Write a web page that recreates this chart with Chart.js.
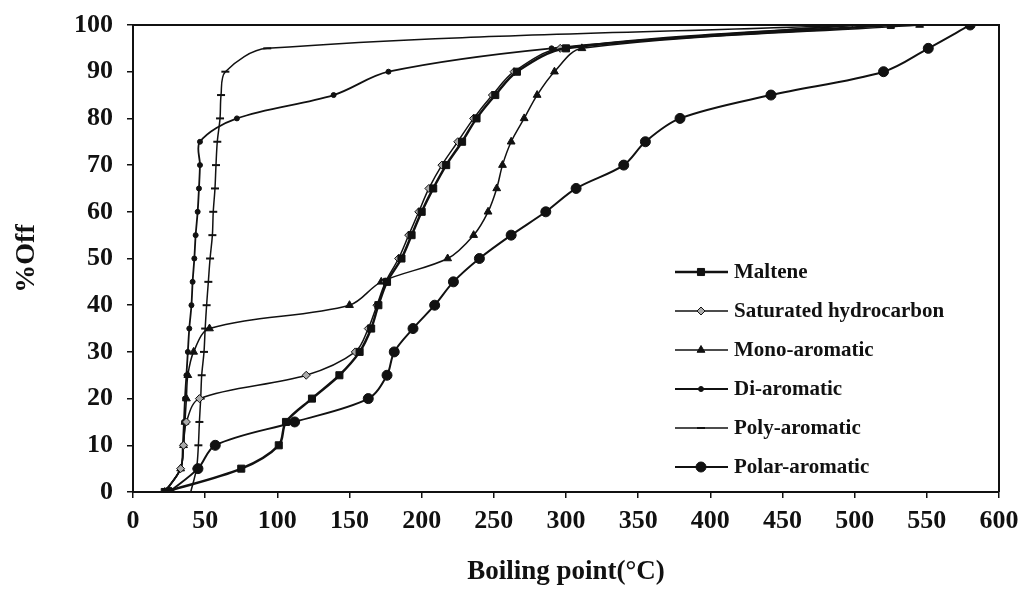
<!DOCTYPE html>
<html>
<head>
<meta charset="utf-8">
<script src="https://cdn.jsdelivr.net/npm/chart.js@4.4.0/dist/chart.umd.min.js"></script>
<style>
  html, body { margin: 0; padding: 0; background: #fff; }
  #wrap { width: 1025px; height: 598px; }
</style>
</head>
<body>
<div id="wrap"><canvas id="myChart" width="1025" height="598"></canvas></div>
<script>
// %Off levels shared by every fraction
var pctOff = [0, 5, 10, 15, 20, 25, 30, 35, 40, 45, 50, 55, 60, 65, 70, 75, 80, 85, 90, 95, 100];

// boiling point (°C) at each %Off level
var maltene   = [22, 75, 101, 106, 124, 143, 157, 165, 170, 176, 186, 193, 200, 208, 217, 228, 238, 251, 266, 300, 525];
var saturated = [22, 33, 35, 37, 46, 120, 154, 163, 169, 175, 184, 191, 198, 205, 214, 225, 236, 249, 264, 296, 500];
var monoArom  = [22, 33, 35, 36, 37, 38, 42, 53, 150, 172, 218, 236, 246, 252, 256, 262, 271, 280, 292, 311, 545];
var diArom    = [22, 33, 34.5, 35.3, 36, 37, 38, 39, 40.5, 41.3, 42.5, 43.4, 44.8, 45.7, 46.4, 46.4, 72, 139, 177, 290, 500];
var polyArom  = [40, 44, 45.3, 46, 46.9, 47.6, 49.2, 50, 51, 52.2, 53.4, 55, 55.6, 56.8, 57.5, 58.4, 60.3, 61, 64, 93, 500];
var polarArom = [25, 45, 57, 112, 163, 176, 181, 194, 209, 222, 240, 262, 286, 307, 340, 355, 379, 442, 520, 551, 580];

var seriesNames = ['Maltene', 'Saturated hydrocarbon', 'Mono-aromatic', 'Di-aromatic', 'Poly-aromatic', 'Polar-aromatic'];
var xTicks = [0, 50, 100, 150, 200, 250, 300, 350, 400, 450, 500, 550, 600];
var yTicks = [0, 10, 20, 30, 40, 50, 60, 70, 80, 90, 100];

var SERIF = '"Liberation Serif", "Times New Roman", serif';

function pts(xs){
	return xs.map(function(x, i){ return { x: x, y: pctOff[i] }; });
}

function ds(name, xs, style, radius, lw, fill){
	return {
		label : name,
		data : pts(xs),
		showLine : true,
		tension : 0.33,
		borderColor : '#111',
		borderWidth : lw,
		pointStyle : style,
		pointRadius : radius,
		pointHoverRadius : radius,
		pointBackgroundColor : fill,
		pointBorderColor : '#111',
		pointBorderWidth : style === 'line' ? 2 : 1
	};
}

// top/right frame + legend box inside the plot
var framePlugin = {
	id : 'frame',
	afterDraw : function(chart){
		var c = chart.ctx, a = chart.chartArea;
		c.save();
		c.strokeStyle = '#111';
		c.lineWidth = 2;
		c.beginPath();
		c.moveTo(a.left, a.top); c.lineTo(a.right, a.top); c.lineTo(a.right, a.bottom);
		c.stroke();

		var y0 = 272, step = 39;
		chart.data.datasets.forEach(function(d, i){
			var y = y0 + i * step;
			c.strokeStyle = '#111';
			c.lineWidth = d.borderWidth;
			c.beginPath(); c.moveTo(675, y); c.lineTo(728, y); c.stroke();
			c.fillStyle = d.pointBackgroundColor;
			c.lineWidth = d.pointBorderWidth;
			Chart.helpers.drawPoint(c, { pointStyle : d.pointStyle, radius : d.pointRadius, borderWidth : d.pointBorderWidth, rotation : 0 }, 701, y);
			c.fillStyle = '#111';
			c.font = 'bold 21px ' + SERIF;
			c.textBaseline = 'middle';
			c.textAlign = 'left';
			c.fillText(d.label, 734, y + 1);
		});
		c.restore();
	}
};

var ctx = document.getElementById('myChart');
var myChart = new Chart(ctx, {
	type : 'scatter',
	data : {
		datasets : [
			ds(seriesNames[0], maltene,   'rect',    5,   2.5, '#111'),
			ds(seriesNames[1], saturated, 'rectRot', 4,   1.5, '#aaa'),
			ds(seriesNames[2], monoArom,  'triangle',4.5, 1.5, '#111'),
			ds(seriesNames[3], diArom,    'circle',  2.5, 1.8, '#111'),
			ds(seriesNames[4], polyArom,  'line',    4,   1.5, '#111'),
			ds(seriesNames[5], polarArom, 'circle',  5,   2,   '#111')
		]
	},
	options : {
		responsive : false,
		animation : false,
		layout : { padding : { left : 0, right : 26, top : 25, bottom : 0 } },
		plugins : {
			legend : { display : false },
			tooltip : { enabled : false }
		},
		scales : {
			x : {
				type : 'linear',
				min : 0, max : 600,
				afterFit : function(s){ s.height = 106; s.paddingLeft = 0; s.paddingRight = 0; },
				afterBuildTicks : function(s){ s.ticks = xTicks.map(function(v){ return { value : v }; }); },
				border : { display : true, color : '#111', width : 2 },
				grid : { drawOnChartArea : false, drawTicks : true, tickLength : 6, color : '#111', lineWidth : 1.5 },
				ticks : { color : '#111', padding : 8, maxRotation : 0, font : { family : SERIF, size : 26, weight : 'bold' } },
				title : { display : true, text : 'Boiling point(°C)', color : '#111', padding : { bottom : 10 },
					font : { family : SERIF, size : 27, weight : 'bold' } }
			},
			y : {
				type : 'linear',
				min : 0, max : 100,
				afterFit : function(s){ s.width = 133; s.paddingTop = 0; s.paddingBottom = 0; },
				afterBuildTicks : function(s){ s.ticks = yTicks.map(function(v){ return { value : v }; }); },
				border : { display : true, color : '#111', width : 2 },
				grid : { drawOnChartArea : false, drawTicks : true, tickLength : 6, color : '#111', lineWidth : 1.5 },
				ticks : { color : '#111', padding : 14, font : { family : SERIF, size : 26, weight : 'bold' } },
				title : { display : true, text : '%Off', color : '#111', padding : { top : 10 },
					font : { family : SERIF, size : 28, weight : 'bold' } }
			}
		}
	},
	plugins : [framePlugin]
});
</script>
</body>
</html>
